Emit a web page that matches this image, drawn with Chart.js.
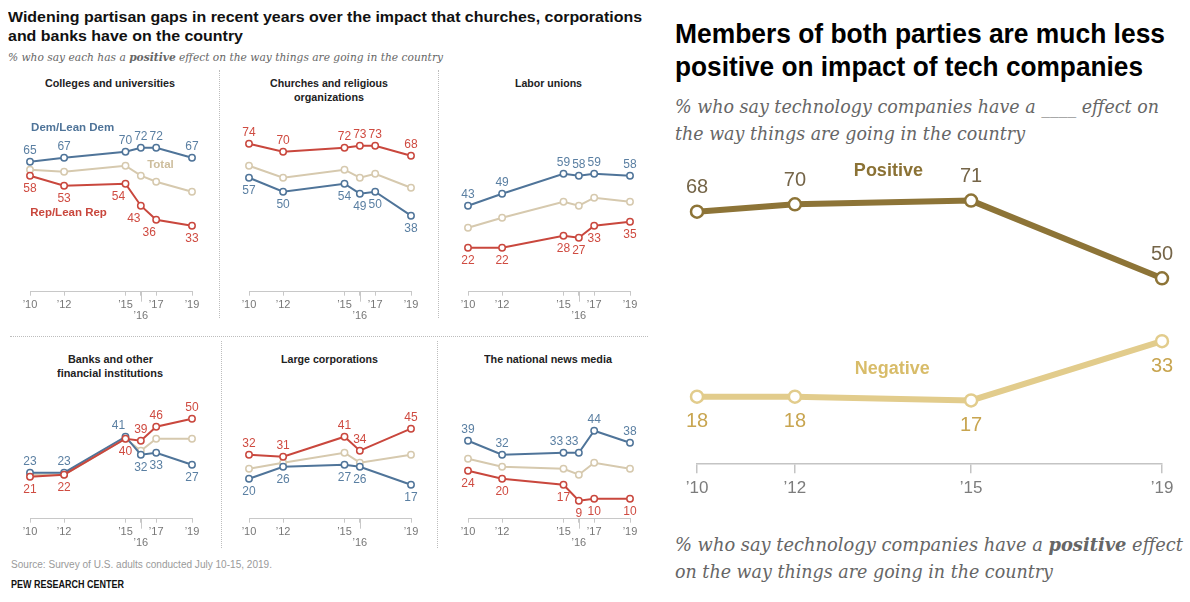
<!DOCTYPE html>
<html>
<head>
<meta charset="utf-8">
<script src="https://cdn.jsdelivr.net/npm/chart.js@4.4.1/dist/chart.umd.min.js"></script>
<style>
  body { margin:0; width:1190px; height:602px; background:#fff; position:relative; overflow:hidden;
         font-family:"Liberation Sans", Arial, sans-serif; }
  .t { position:absolute; white-space:nowrap; line-height:1; transform-origin:0 50%; }
  .b { font-weight:bold; color:#111; }
  .s { font-family:"DejaVu Serif", Georgia, serif; font-style:italic; color:#666; }
  .pt { font-weight:bold; color:#222; font-size:10.5px; }
  canvas { position:absolute; }
  .dot { position:absolute; border:0 dotted #bdbdbd; }
</style>
</head>
<body>

<!-- left graphic text -->
<div class="t b" style="left:8px;top:8.8px;font-size:15.5px" data-w="634">Widening partisan gaps in recent years over the impact that churches, corporations</div>
<div class="t b" style="left:8px;top:27.8px;font-size:15.5px" data-w="235">and banks have on the country</div>
<div class="t s" style="left:8px;top:51.7px;font-size:11px" data-w="435">% who say each has a <b>positive</b> effect on the way things are going in the country</div>

<div class="t pt" style="left:45px;top:78.4px" data-w="130">Colleges and universities</div>
<div class="t pt" style="left:270px;top:78.4px" data-w="118">Churches and religious</div>
<div class="t pt" style="left:294px;top:91.9px" data-w="70">organizations</div>
<div class="t pt" style="left:514.5px;top:78.4px" data-w="67">Labor unions</div>
<div class="t pt" style="left:67.5px;top:354.4px" data-w="85">Banks and other</div>
<div class="t pt" style="left:57px;top:367.9px" data-w="106">financial institutions</div>
<div class="t pt" style="left:280.5px;top:354.4px" data-w="97">Large corporations</div>
<div class="t pt" style="left:484px;top:354.4px" data-w="128">The national news media</div>

<div class="t" style="left:11px;top:559.7px;font-size:10px;color:#9a9a9a" data-w="261">Source: Survey of U.S. adults conducted July 10-15, 2019.</div>
<div class="t b" style="left:11px;top:580.1px;font-size:10px" data-w="113">PEW RESEARCH CENTER</div>

<div class="dot" style="left:10px;top:336px;width:638px;border-top-width:1px"></div>
<div class="dot" style="left:219px;top:70px;height:248px;border-left-width:1px"></div>
<div class="dot" style="left:438px;top:70px;height:248px;border-left-width:1px"></div>
<div class="dot" style="left:221px;top:341px;height:207px;border-left-width:1px"></div>
<div class="dot" style="left:437px;top:341px;height:207px;border-left-width:1px"></div>

<!-- right graphic text -->
<div class="t b" style="left:675px;top:20.7px;font-size:27px;color:#000" data-w="490">Members of both parties are much less</div>
<div class="t b" style="left:675px;top:54.2px;font-size:27px;color:#000" data-w="468">positive on impact of tech companies</div>
<div class="t s" style="left:675px;top:98.2px;font-size:18.5px" data-w="484">% who say technology companies have a ____ effect on</div>
<div class="t s" style="left:675px;top:124.7px;font-size:18.5px" data-w="350">the way things are going in the country</div>
<div class="t s" style="left:675px;top:536.2px;font-size:18.5px" data-w="508">% who say technology companies have a <b>positive</b> effect</div>
<div class="t s" style="left:675px;top:562.7px;font-size:18.5px" data-w="378">on the way things are going in the country</div>

<canvas id="c1" width="194" height="256" style="left:14px;top:72px"></canvas>
<canvas id="c2" width="194" height="256" style="left:233px;top:72px"></canvas>
<canvas id="c3" width="194" height="256" style="left:452px;top:72px"></canvas>
<canvas id="c4" width="194" height="256" style="left:14px;top:299px"></canvas>
<canvas id="c5" width="194" height="256" style="left:233px;top:299px"></canvas>
<canvas id="c6" width="194" height="256" style="left:452px;top:299px"></canvas>
<canvas id="tech" width="518" height="358" style="left:672px;top:150px"></canvas>

<script>
/* ---------------- DATA ---------------- */
// survey dates as fraction of year (read off the axis spacing)
const surveyX   = [2010, 2012, 2015.6, 2016.5, 2017.4, 2019.5];
const surveyTix = ["’10", "’12", "’15", ["", "’16"], "’17", "’19"];
const corpX     = [2010, 2012, 2015.6, 2016.5, 2019.5];
const corpTix   = ["’10", "’12", "’15", ["", "’16"], "’19"];

const collegesDem   = [65, 67, 70, 72, 72, 67];
const collegesRep   = [58, 53, 54, 43, 36, 33];
const collegesTotal = [61, 60, 63, 58, 55, 50];

const churchesDem   = [57, 50, 54, 49, 50, 38];
const churchesRep   = [74, 70, 72, 73, 73, 68];
const churchesTotal = [63, 57, 61, 57, 59, 52];

const unionsDem   = [43, 49, 59, 58, 59, 58];
const unionsRep   = [22, 22, 28, 27, 33, 35];
const unionsTotal = [32, 37, 45, 43, 47, 45];

const banksDem   = [23, 23, 41, 32, 33, 27];
const banksRep   = [21, 22, 40, 39, 46, 50];
const banksTotal = [22, 22, 40, 34, 40, 40];

const corpDem   = [20, 26, 27, 26, 17];
const corpRep   = [32, 31, 41, 34, 45];
const corpTotal = [25, 28, 33, 28, 32];

const newsDem   = [39, 32, 33, 33, 44, 38];
const newsRep   = [24, 20, 17, 9, 10, 10];
const newsTotal = [30, 26, 25, 22, 28, 25];

const techX        = [2010, 2012, 2015.6, 2019.5];
const techTix      = ["’10", "’12", "’15", "’19"];
const techPositive = [68, 70, 71, 50];
const techNegative = [18, 18, 17, 33];

/* ---------------- STYLE ---------------- */
Chart.defaults.font.family = '"Liberation Sans", Arial, sans-serif';
const DEM = "#4f7499", REP = "#c9473d", TOT = "#d6c9ae";
const DEM_TXT = "#5a7fa2", REP_TXT = "#cf4b41";
const FONT = '"Liberation Sans", Arial, sans-serif';

// label placement: a = above, b = below, l = shifted left
const up6 = ["a","a","a","a","a","a"], dn6 = ["b","b","b","b","b","b"];

const panels = [
  { id:"c1", xs:surveyX, tix:surveyTix, series:[
      { vals:collegesRep,   color:REP, txt:REP_TXT, place:["b","b","bl","bl","bl","b"] },
      { vals:collegesDem,   color:DEM, txt:DEM_TXT, place:up6 },
      { vals:collegesTotal, color:TOT } ],
    names:[
      { text:"Dem/Lean Dem", x:2012.5,  y:82,   color:DEM },
      { text:"Total",        x:2017.65, y:63.6, color:"#cdbd9c" },
      { text:"Rep/Lean Rep", x:2012.26, y:39.6, color:REP } ] },
  { id:"c2", xs:surveyX, tix:surveyTix, series:[
      { vals:churchesRep,   color:REP, txt:REP_TXT, place:up6 },
      { vals:churchesDem,   color:DEM, txt:DEM_TXT, place:dn6 },
      { vals:churchesTotal, color:TOT } ] },
  { id:"c3", xs:surveyX, tix:surveyTix, series:[
      { vals:unionsRep,   color:REP, txt:REP_TXT, place:dn6 },
      { vals:unionsDem,   color:DEM, txt:DEM_TXT, place:up6 },
      { vals:unionsTotal, color:TOT } ] },
  { id:"c4", xs:surveyX, tix:surveyTix, series:[
      { vals:banksRep,   color:REP, txt:REP_TXT, place:["b","b","b","a","a","a"] },
      { vals:banksDem,   color:DEM, txt:DEM_TXT, place:["a","a","al","b","b","b"] },
      { vals:banksTotal, color:TOT } ] },
  { id:"c5", xs:corpX, tix:corpTix, series:[
      { vals:corpRep,   color:REP, txt:REP_TXT, place:up6 },
      { vals:corpDem,   color:DEM, txt:DEM_TXT, place:dn6 },
      { vals:corpTotal, color:TOT } ] },
  { id:"c6", xs:surveyX, tix:surveyTix, series:[
      { vals:newsRep,   color:REP, txt:REP_TXT, place:dn6 },
      { vals:newsDem,   color:DEM, txt:DEM_TXT, place:["a","a","al","al","a","a"] },
      { vals:newsTotal, color:TOT } ] }
];

/* ---------------- PLUGIN: value labels, series names, long '16 tick ---------------- */
const pointLabels = {
  id: "pointLabels",
  afterDatasetsDraw(chart, args, o) {
    const ctx = chart.ctx;
    ctx.save();
    ctx.textAlign = "center";
    ctx.textBaseline = "middle";
    ctx.font = o.font;
    chart.data.datasets.forEach((ds, di) => {
      if (!ds.place) return;
      ctx.fillStyle = ds.labelColor;
      chart.getDatasetMeta(di).data.forEach((pt, i) => {
        const p = ds.place[i];
        const dy = p[0] === "a" ? -o.up : o.down;
        const dx = p[1] === "l" ? -o.side : 0;
        ctx.fillText(ds.data[i].y, pt.x + dx, pt.y + dy);
      });
    });
    (o.names || []).forEach(n => {
      ctx.font = o.nameFont;
      ctx.fillStyle = n.color;
      ctx.fillText(n.text, chart.scales.x.getPixelForValue(n.x), chart.scales.y.getPixelForValue(n.y));
    });
    if (o.longTick) {
      const x = Math.round(chart.scales.x.getPixelForValue(o.longTick)) + 0.5;
      const b = chart.chartArea.bottom;
      ctx.strokeStyle = "#c8c8c8";
      ctx.lineWidth = 1;
      ctx.beginPath();
      ctx.moveTo(x, b);
      ctx.lineTo(x, b + 10);
      ctx.stroke();
    }
    ctx.restore();
  }
};

/* ---------------- SMALL MULTIPLES ---------------- */
panels.forEach(p => {
  new Chart(document.getElementById(p.id), {
    type: "line",
    data: {
      datasets: p.series.map(s => ({
        data: p.xs.map((x, i) => ({ x: x, y: s.vals[i] })),
        borderColor: s.color,
        borderWidth: 2,
        pointRadius: 3.2,
        pointBorderWidth: 1.5,
        pointBorderColor: s.color,
        pointBackgroundColor: "#fff",
        tension: 0,
        clip: false,
        place: s.place,
        labelColor: s.txt
      }))
    },
    options: {
      responsive: false,
      animation: false,
      events: [],
      layout: { padding: { left: 16, right: 16, top: 19.7, bottom: 3.2 } },
      plugins: {
        legend: { display: false },
        tooltip: { enabled: false },
        pointLabels: {
          font: "12px " + FONT, nameFont: "bold 11.5px " + FONT,
          up: 11.5, down: 12.5, side: 7,
          names: p.names, longTick: 2016.5
        }
      },
      scales: {
        x: {
          type: "linear", min: 2010, max: 2019.5,
          afterBuildTicks: sc => { sc.ticks = p.xs.map(v => ({ value: v })); },
          ticks: {
            autoSkip: false, maxRotation: 0, minRotation: 0, padding: 3,
            color: "#777", font: { size: 11, lineHeight: 1.05 },
            callback: (v, i) => p.tix[i]
          },
          grid: { drawOnChartArea: false, drawTicks: true, tickLength: 4, color: "#c8c8c8" },
          border: { display: true, color: "#c8c8c8", width: 1 }
        },
        y: { display: false, min: 0, max: 100 }
      }
    },
    plugins: [pointLabels]
  });
});

/* ---------------- TECH COMPANIES ---------------- */
new Chart(document.getElementById("tech"), {
  type: "line",
  data: {
    datasets: [
      { data: techX.map((x, i) => ({ x: x, y: techPositive[i] })),
        borderColor: "#8d7437", borderWidth: 6,
        pointRadius: 6, pointBorderWidth: 2.5, pointBorderColor: "#8d7437", pointBackgroundColor: "#fff",
        tension: 0, clip: false, place: ["a","a","a","a"], labelColor: "#756548" },
      { data: techX.map((x, i) => ({ x: x, y: techNegative[i] })),
        borderColor: "#e2cc8c", borderWidth: 6,
        pointRadius: 6, pointBorderWidth: 2.5, pointBorderColor: "#e2cc8c", pointBackgroundColor: "#fff",
        tension: 0, clip: false, place: ["b","b","b","b"], labelColor: "#c8a550" }
    ]
  },
  options: {
    responsive: false,
    animation: false,
    events: [],
    layout: { padding: { left: 25, right: 28, top: 17.3, bottom: 4.3 } },
    plugins: {
      legend: { display: false },
      tooltip: { enabled: false },
      pointLabels: {
        font: "20px " + FONT, nameFont: "bold 18px " + FONT,
        up: 24, down: 25, side: 0,
        names: [
          { text: "Positive", x: 2013.91, y: 79.1, color: "#8b7235" },
          { text: "Negative", x: 2013.99, y: 25.5, color: "#d8bc69" }
        ]
      }
    },
    scales: {
      x: {
        type: "linear", min: 2010, max: 2019.5,
        afterBuildTicks: sc => { sc.ticks = techX.map(v => ({ value: v })); },
        ticks: {
          autoSkip: false, maxRotation: 0, minRotation: 0, padding: 5,
          color: "#7c7c7c", font: { size: 17, lineHeight: 1.2 },
          callback: (v, i) => techTix[i]
        },
        grid: { drawOnChartArea: false, drawTicks: true, tickLength: 10, color: "#c4c4c4", lineWidth: 1.5 },
        border: { display: true, color: "#c4c4c4", width: 1.5 }
      },
      y: { display: false, min: 0, max: 80 }
    }
  },
  plugins: [pointLabels]
});

/* ---------------- fit text lines to measured widths ---------------- */
document.querySelectorAll("[data-w]").forEach(el => {
  const w = el.getBoundingClientRect().width;
  el.style.transform = "scaleX(" + (el.dataset.w / w) + ")";
});
</script>
</body>
</html>
